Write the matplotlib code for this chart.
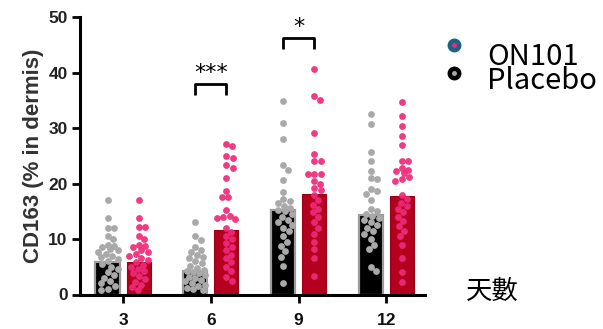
import matplotlib
matplotlib.use("Agg")
import matplotlib.pyplot as plt
from matplotlib.lines import Line2D

# ------------------------------------------------------------------ data
days = ["3", "6", "9", "12"]
placebo_bar = [5.8, 4.3, 15.2, 14.3]
on101_bar = [5.8, 11.7, 18.2, 17.7]

placebo_d3 = [17.0, 13.8, 12.0, 12.0, 10.6, 10.0, 9.0, 8.8, 8.5, 8.2, 8.0, 7.6,
              7.3, 7.0, 6.7, 6.4, 6.0, 5.5, 5.0, 4.6, 4.0, 3.6, 3.0, 2.5, 2.0,
              1.6, 1.0, 0.8]
placebo_d6 = [13.1, 10.6, 9.9, 8.5, 8.0, 7.6, 7.2, 6.8, 6.5, 6.0, 5.6, 5.2, 4.8,
              4.5, 4.2, 4.0, 3.8, 3.5, 3.2, 3.0, 2.7, 2.4, 2.0, 1.8, 1.5, 1.2,
              1.0, 0.8]
placebo_d9 = [34.9, 30.9, 28.1, 23.3, 22.4, 20.6, 18.5, 17.2, 16.8, 16.5, 16.0,
              15.6, 15.3, 15.0, 14.5, 14.0, 13.5, 13.0, 12.6, 12.0, 11.5, 10.5,
              9.5, 8.8, 7.8, 6.8, 5.2, 2.1]
placebo_d12 = [32.5, 30.7, 25.7, 24.1, 22.2, 21.0, 20.8, 19.0, 18.6, 18.2, 17.1,
               15.5, 15.0, 14.6, 14.2, 13.8, 13.5, 13.0, 12.5, 12.0, 11.5, 11.0,
               10.0, 9.0, 8.2, 5.0, 4.2]

on101_d3 = [17.0, 13.8, 12.1, 12.1, 10.6, 10.0, 9.0, 8.8, 8.5, 8.0, 7.6, 7.3,
            7.0, 6.6, 6.2, 5.8, 5.4, 5.0, 4.6, 4.2, 3.8, 3.3, 2.8, 2.3, 1.8,
            1.3, 0.8]
on101_d6 = [27.2, 26.7, 24.9, 24.7, 23.3, 22.9, 21.1, 18.6, 17.5, 17.5, 15.2,
            14.2, 14.0, 13.8, 13.6, 12.0, 11.2, 10.5, 10.0, 9.3, 8.6, 8.0, 7.2,
            6.5, 5.8, 5.0, 4.2, 3.2, 2.5]
on101_d9 = [40.7, 35.8, 35.1, 29.1, 25.3, 24.1, 24.1, 21.8, 21.8, 21.8, 20.5,
            20.0, 19.2, 18.8, 18.0, 17.0, 16.2, 15.5, 14.8, 14.0, 13.0, 12.0,
            11.0, 9.5, 8.2, 6.5, 3.3]
on101_d12 = [34.7, 32.2, 30.4, 28.6, 26.9, 24.1, 24.1, 22.8, 22.5, 22.2, 22.0,
             21.2, 20.8, 20.4, 18.0, 17.2, 16.5, 16.0, 15.5, 14.8, 14.0, 13.2,
             12.3, 11.5, 10.5, 9.0, 6.5, 4.0, 2.2]

placebo_pts = [placebo_d3, placebo_d6, placebo_d9, placebo_d12]
on101_pts = [on101_d3, on101_d6, on101_d9, on101_d12]

# significance brackets: group index, label
sig_groups = [1, 2]
sig_labels = ["***", "*"]

# ------------------------------------------------------------------ style
W, H = 603, 329
GREY_PT = "#a9a9a9"
PINK_PT = "#ee2a79"
RED_BAR = "#b2001e"
TEAL = "#1a6384"
off, bw = 0.177, 0.274
bracket_top = {1: 37.9, 2: 46.2}

plt.rcParams["font.family"] = ["Liberation Sans", "DejaVu Sans"]

fig = plt.figure(figsize=(W / 100, H / 100), dpi=100)
ax = fig.add_axes([79.5 / W, 34.5 / H, 345.5 / W, 277.2 / H])
ax.set_xlim(-0.496, 3.44)
ax.set_ylim(0, 50)

xpx = 345.5 / (3.44 + 0.496)   # pixels per x unit
ypx = 277.2 / 50               # pixels per y unit


def swarm(vals, xc, d=6.4, maxw=10.0):
    """simple deterministic beeswarm offsets in pixel space"""
    placed, xs = [], []
    cands = [0.0]
    for k in range(1, 21):
        cands += [k * 0.5, -k * 0.5]
    for v in vals:
        y = v * ypx
        pick = None
        for c in cands:
            if abs(c) > maxw:
                continue
            if all((c - px) ** 2 + (y - py) ** 2 >= d * d for px, py in placed):
                pick = c
                break
        if pick is None:
            ok = [c for c in cands if abs(c) <= maxw]
            pick = max(ok, key=lambda c: min(
                [(c - px) ** 2 + (y - py) ** 2 for px, py in placed] or [1e9]))
        placed.append((pick, y))
        xs.append(xc + pick / xpx)
    return xs


xs = range(len(days))
ax.bar([x - off for x in xs], placebo_bar, width=bw, color="black",
       edgecolor="#9c9c9c", linewidth=1.6, zorder=2)
ax.bar([x + off for x in xs], on101_bar, width=bw, color=RED_BAR,
       edgecolor="#9a0018", linewidth=0.8, zorder=2)

for i in xs:
    px = swarm(placebo_pts[i], i - off)
    ax.scatter(px, placebo_pts[i], s=24, color=GREY_PT, lw=0, zorder=3)
    ox = swarm(on101_pts[i], i + off)
    ax.scatter(ox, on101_pts[i], s=24, color=PINK_PT, alpha=0.92, lw=0, zorder=3)

# brackets
for g, lab in zip(sig_groups, sig_labels):
    top = bracket_top[g]
    ax.plot([g - off, g - off, g + off, g + off], [top - 2.0, top, top, top - 2.0],
            color="black", lw=2, solid_capstyle="butt", clip_on=False)
    ax.text(g, top + 0.2, lab, ha="center", va="bottom", fontsize=16,
            family="DejaVu Sans", clip_on=False)

ax.spines["top"].set_visible(False)
ax.spines["right"].set_visible(False)
for s in ("left", "bottom"):
    ax.spines[s].set_linewidth(2.2)
ax.set_xticks(list(xs))
ax.set_xticklabels(days)
ax.set_yticks([0, 10, 20, 30, 40, 50])
ax.tick_params(axis="y", length=5.5, width=2, pad=3, labelsize=12.5,
               labelcolor="#222222")
ax.tick_params(axis="x", length=6, width=2, pad=7, labelsize=12.5,
               labelcolor="#111111")
for t in ax.get_xticklabels() + ax.get_yticklabels():
    t.set_fontweight("bold")
ax.set_ylabel("CD163 (% in dermis)", fontsize=16, fontweight="bold",
              color="#333333", labelpad=3)

# legend drawn by hand
cjk = ["Noto Sans CJK TC", "DejaVu Sans"]
fig.add_artist(Line2D([454 / W], [1 - 45 / H], marker="o", ms=6.8, mew=3.2,
                      mfc=PINK_PT, mec=TEAL, transform=fig.transFigure))
fig.add_artist(Line2D([454 / W], [1 - 73 / H], marker="o", ms=6.8, mew=3.2,
                      mfc=GREY_PT, mec="black", transform=fig.transFigure))
fig.text(487 / W, 1 - 89 / H, "ON101\nPlacebo", fontsize=21, family=cjk,
         va="baseline", linespacing=0.74)
fig.text(492 / W, 1 - 291 / H, "天數", fontsize=19, family=cjk,
         ha="center", va="center")

fig.savefig("out.png", dpi=100)
